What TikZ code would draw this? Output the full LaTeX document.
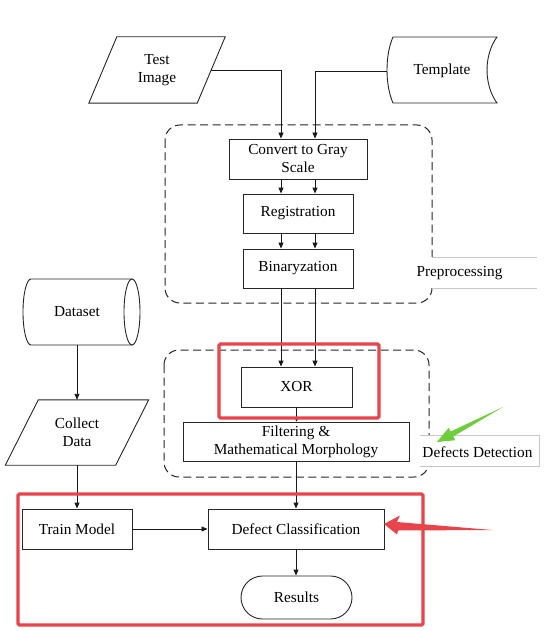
\documentclass[tikz,border=0pt]{standalone}
\usepackage{fontspec}
\setmainfont{Liberation Serif}
\usetikzlibrary{arrows.meta}
\definecolor{hlred}{RGB}{232,68,75}
\definecolor{hlgreen}{RGB}{110,205,60}
\begin{document}
\begin{tikzpicture}[x=1pt,y=-1pt,
  font=\fontsize{15.3}{18}\selectfont,
  proc/.style={draw=black!85, line width=0.9pt, inner sep=0pt, align=center},
  ghost/.style={inner sep=0pt, align=center},
  outline/.style={draw=black!85, line width=0.9pt},
  arr/.style={draw=black!90, line width=0.9pt, -{Triangle[length=6pt,width=5pt]}},
  grp/.style={draw=black!85, line width=1pt, dash pattern=on 8pt off 4.5pt, rounded corners=15pt},
  hl/.style={draw=hlred, line width=3.2pt, rounded corners=1.5pt},
  lblline/.style={draw=black!22, line width=0.6pt}]
\useasboundingbox[fill=white] (0,0) rectangle (558,631);

% group frames
\draw[grp] (165,125) rectangle (432,303);
\draw[grp] (164,350) rectangle (429,477);

% group labels
\fill[white] (431,257) rectangle (537,288);
\draw[lblline] (432,257) -- (537,257) (432,288) -- (537,288);
\node[ghost] (pre) at (459.5,273) {Preprocessing};

\fill[white] (420,435) rectangle (539,466);
\draw[lblline] (420,435) -- (539,435) -- (539,466) -- (420,466);
\node[ghost] (dd) at (477.5,452) {Defects Detection};

% input shapes
\node[ghost, minimum width=108pt, minimum height=66pt] (ti) at (157,70) {Test\\Image};
\draw[outline] ([xshift=14pt]ti.north west) -- ([xshift=14pt]ti.north east)
  -- ([xshift=-14pt]ti.south east) -- ([xshift=-14pt]ti.south west) -- cycle;

\node[ghost, minimum width=110pt, minimum height=66pt] (tmpl) at (442,71) {Template};
\draw[outline] (393,37) -- (497,37) .. controls (483.7,55) and (483.7,85) .. (497,103)
  -- (393,103) .. controls (385,85) and (385,55) .. (393,37) -- cycle;

\node[ghost, minimum width=92pt, minimum height=66pt] (ds) at (77,312) {Dataset};
\draw[outline] (132,312) ellipse [x radius=8pt, y radius=33pt];
\draw[outline] (132,279) -- (31,279) arc[start angle=90, end angle=270, x radius=8pt, y radius=33pt] -- (132,345);

\node[ghost, minimum width=110pt, minimum height=65pt] (cd) at (77,432.5) {Collect\\Data};
\draw[outline] ([xshift=16.5pt]cd.north west) -- ([xshift=16.5pt]cd.north east)
  -- ([xshift=-16.5pt]cd.south east) -- ([xshift=-16.5pt]cd.south west) -- cycle;

% process boxes
\node[proc, minimum width=138pt, minimum height=40pt] (conv) at (298,159) {Convert to Gray\\Scale};
\node[proc, minimum width=110pt, minimum height=39pt] (reg) at (298,213.5) {Registration};
\node[proc, minimum width=110pt, minimum height=39pt] (bin) at (298,268.5) {Binaryzation};
\node[proc, minimum width=111pt, minimum height=40pt] (xor) at (296.5,387) {XOR};
\node[proc, minimum width=226pt, minimum height=39pt] (filt) at (296,441.5) {Filtering \&\\Mathematical Morphology};
\node[proc, minimum width=110pt, minimum height=40pt] (tm) at (77,529) {Train Model};
\node[proc, minimum width=176pt, minimum height=40pt] (dc) at (296,529) {Defect Classification};
\node[proc, minimum width=111pt, minimum height=43pt, rounded corners=21.5pt] (res) at (296.5,597.5) {Results};

% connectors
\draw[arr] (ti.east) -| ([xshift=-17pt]conv.north);
\draw[arr] (tmpl.west) -| ([xshift=17pt]conv.north);
\draw[arr] ([xshift=-17pt]conv.south) -- ([xshift=-17pt]reg.north);
\draw[arr] ([xshift=17pt]conv.south) -- ([xshift=17pt]reg.north);
\draw[arr] ([xshift=-17pt]reg.south) -- ([xshift=-17pt]bin.north);
\draw[arr] ([xshift=17pt]reg.south) -- ([xshift=17pt]bin.north);
\draw[arr] ([xshift=-17pt]bin.south) -- ([xshift=-17pt]bin.south |- xor.north);
\draw[arr] ([xshift=17pt]bin.south) -- ([xshift=17pt]bin.south |- xor.north);
\draw[arr, -{Triangle[length=4pt,width=4pt]}] (xor.south) -- (xor.south |- filt.north);
\draw[arr] (filt.south) -- (filt.south |- dc.north);
\draw[arr] (dc.south) -- (dc.south |- res.north);
\draw[arr] (ds.south) -- (cd.north);
\draw[arr] (cd.south) -- (tm.north);
\draw[arr] (tm.east) -- (dc.west);

% highlights
\draw[hl] (219,344) rectangle (379,418);
\draw[hl] (18,494) rectangle (423,625);
\fill[hlred] (384,524) -- (400,515.5) -- (397,522) -- (492,530) -- (398,530.5) -- (397,534.5) -- cycle;
\fill[hlgreen] (437,442) -- (448.7,427.8) -- (450.7,431.5) -- (503,407) -- (453.3,436.5) -- (455.3,440.2) -- cycle;
\end{tikzpicture}
\end{document}
